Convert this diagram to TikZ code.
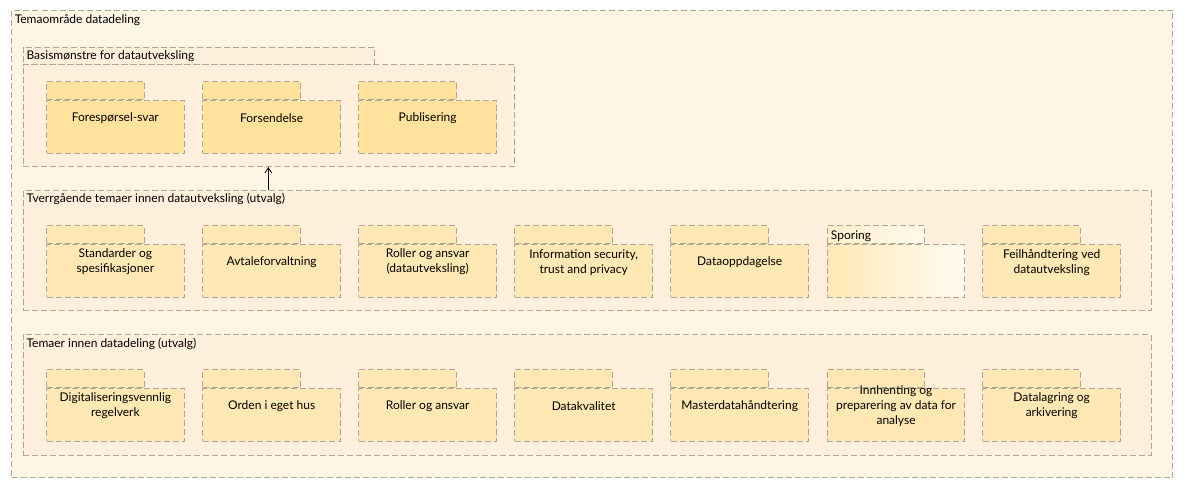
\documentclass[tikz,border=0pt]{standalone}
\usepackage{fontspec}
\setmainfont{Lato}
\usetikzlibrary{arrows.meta,calc}
\definecolor{outerfill}{RGB}{254,245,228}
\definecolor{grpfill}{RGB}{254,240,221}
\definecolor{pkgA}{RGB}{255,226,156}
\definecolor{pkgB}{RGB}{255,232,180}
\definecolor{bord}{RGB}{178,166,142}
\tikzset{
  dashbox/.style={draw=bord, line width=0.75pt, dash pattern=on 4.5pt off 2.25pt},
  lbl/.style={font=\fontsize{9}{11.25}\selectfont, anchor=west, inner sep=0pt},
  pkgbody/.style={dashbox, minimum width=103.3pt, minimum height=39.5pt, inner sep=0pt, anchor=north west},
  pkgtab/.style={dashbox, minimum width=73.3pt, minimum height=13.5pt, inner sep=0pt, anchor=south west},
  pkgtext/.style={font=\fontsize{9}{11.25}\selectfont, align=center, inner sep=0pt},
}
\newcommand{\pkg}[5]{%
  \node[pkgtab, fill=#4] (#1t) at (#2,#3) {};
  \node[pkgbody, fill=#4] (#1) at (#1t.south west) {};
  \node[pkgtext] (#1x) at ([yshift=6.75pt]#1.center) {#5};
}
\begin{document}
\begin{tikzpicture}[x=0.75pt,y=-0.75pt]
\useasboundingbox (0,0) rectangle (1185,489);
% outer frame
\node[dashbox, fill=outerfill, anchor=north west, minimum width=871pt, minimum height=350.5pt, inner sep=0pt] (outer) at (11,10) {};
\node[lbl] (outerl) at (14.5,20) {Temaområde datadeling};
% group 1
\node[dashbox, fill=grpfill, anchor=north west, minimum width=263.4pt, minimum height=13.3pt, inner sep=0pt] (g1t) at (22.5,46.5) {};
\node[dashbox, fill=grpfill, anchor=north west, minimum width=368.9pt, minimum height=76.2pt, inner sep=0pt] (g1) at (22.5,64.3) {};
\node[lbl] (g1l) at (26.3,56) {Basismønstre for datautveksling};
% group 2
\node[dashbox, fill=grpfill, anchor=north west, minimum width=846pt, minimum height=90pt, inner sep=0pt] (g2) at (22.5,190) {};
\node[lbl] (g2l) at (26.3,199) {Tverrgående temaer innen datautveksling (utvalg)};
% group 3
\node[dashbox, fill=grpfill, anchor=north west, minimum width=846pt, minimum height=90.3pt, inner sep=0pt] (g3) at (22.5,334.3) {};
\node[lbl] (g3l) at (26.3,344.3) {Temaer innen datadeling (utvalg)};
% group 1 packages (tab top at y=82)
\pkg{a1}{46}{100}{pkgA}{Forespørsel-svar}
\pkg{a2}{202.3}{100}{pkgA}{Forsendelse}
\pkg{a3}{358.3}{100}{pkgA}{Publisering}
% group 2 packages
\pkg{b1}{46}{244.3}{pkgB}{Standarder og\\spesifikasjoner}
\pkg{b2}{202.3}{244.3}{pkgB}{Avtaleforvaltning}
\pkg{b3}{358.3}{244.3}{pkgB}{Roller og ansvar\\(datautveksling)}
\pkg{b4}{514.3}{244.3}{pkgB}{Information security,\\trust and privacy}
\pkg{b5}{670.3}{244.3}{pkgB}{Dataoppdagelse}
% Sporing with gradient
\node[pkgtab, left color=pkgB!70!white, right color=pkgB!25!white, draw=bord] (b6t) at (826.7,244.3) {};
\node[pkgbody, left color=pkgB, right color=white!60!outerfill, draw=bord] (b6) at (b6t.south west) {};
\node[lbl] (b6l) at (830.7,236) {Sporing};
\pkg{b7}{982.3}{244.3}{pkgB}{Feilhåndtering ved\\datautveksling}
% group 3 packages
\pkg{c1}{46}{388.3}{pkgB}{Digitaliseringsvennlig\\regelverk}
\pkg{c2}{202.3}{388.3}{pkgB}{Orden i eget hus}
\pkg{c3}{358.3}{388.3}{pkgB}{Roller og ansvar}
\pkg{c4}{514.3}{388.3}{pkgB}{Datakvalitet}
\pkg{c5}{670.3}{388.3}{pkgB}{Masterdatahåndtering}
\pkg{c6}{826.7}{388.3}{pkgB}{Innhenting og\\preparering av data for\\analyse}
\pkg{c7}{982.3}{388.3}{pkgB}{Datalagring og\\arkivering}
% arrow
\coordinate (ax) at (268.3,0);
\draw[-{Straight Barb[length=4pt,width=5pt]}, line width=0.6pt, black] (g2.north -| ax) -- (g1.south -| ax);
\end{tikzpicture}
\end{document}
